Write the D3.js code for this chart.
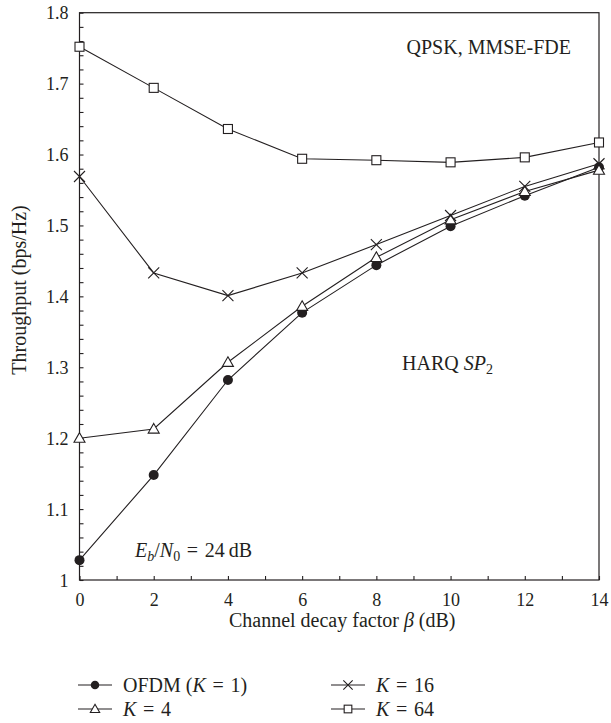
<!DOCTYPE html>
<html>
<head>
<meta charset="utf-8">
<script src="https://cdn.jsdelivr.net/npm/d3@7"></script>
<style>
  html, body { margin: 0; padding: 0; background: #fff; }
  svg text { font-family: "Liberation Serif", "DejaVu Serif", serif; fill: #231f20; }
</style>
</head>
<body>
<svg id="chart" width="611" height="723"></svg>
<script>
const beta = [0, 2, 4, 6, 8, 10, 12, 14];
const ofdm = [1.028, 1.148, 1.282, 1.377, 1.444, 1.499, 1.542, 1.582];
const k4   = [1.200, 1.213, 1.307, 1.386, 1.455, 1.508, 1.548, 1.578];
const k16  = [1.569, 1.433, 1.401, 1.433, 1.473, 1.514, 1.555, 1.587];
const k64  = [1.752, 1.694, 1.636, 1.594, 1.592, 1.589, 1.596, 1.617];
const xTicks = [0, 2, 4, 6, 8, 10, 12, 14];
const yTicks = [1, 1.1, 1.2, 1.3, 1.4, 1.5, 1.6, 1.7, 1.8];
const yTickLabels = ["1", "1.1", "1.2", "1.3", "1.4", "1.5", "1.6", "1.7", "1.8"];

const series = [
  { name: "OFDM", values: ofdm, marker: "circle" },
  { name: "K4", values: k4, marker: "triangle" },
  { name: "K16", values: k16, marker: "cross" },
  { name: "K64", values: k64, marker: "square" }
];

const svg = d3.select("#chart");
const L = 79.5, R = 599, T = 12.7, B = 580;
const x = d3.scaleLinear().domain([0, 14]).range([L, R]);
const y = d3.scaleLinear().domain([1, 1.8]).range([B, T]);
const ink = "#231f20";
const FS = 20, TFS = 18;
const EQ = "\u2004=\u2004";

// frame
svg.append("rect").attr("x", L).attr("y", T).attr("width", R - L).attr("height", B - T)
  .attr("fill", "none").attr("stroke", ink).attr("stroke-width", 1.2);

// x axis
const xAxis = d3.axisBottom(x).tickValues(d3.range(0, 15, 1)).tickSize(-4)
  .tickFormat(d => xTicks.includes(d) ? d : "");
const gx = svg.append("g").attr("transform", `translate(0,${B})`).call(xAxis);
gx.select(".domain").remove();
gx.selectAll("line").attr("stroke", ink).attr("stroke-width", 1.1);
gx.selectAll("text").attr("font-size", TFS).attr("dy", "1.0em").attr("y", 8);

// y axis
const yAxis = d3.axisLeft(y).tickValues(d3.range(0, 41).map(i => 1 + i * 0.02)).tickSize(-4)
  .tickFormat(d => {
    const i = yTicks.findIndex(t => Math.abs(t - d) < 1e-6);
    return i >= 0 ? yTickLabels[i] : "";
  });
const gy = svg.append("g").attr("transform", `translate(${L},0)`).call(yAxis);
gy.select(".domain").remove();
gy.selectAll("line").attr("stroke", ink).attr("stroke-width", 1.1);
gy.selectAll("text").attr("font-size", TFS).attr("x", -11).attr("dy", "0.34em");

// axis titles
const xt = svg.append("text").attr("x", (L + R) / 2 + 3).attr("y", 627).attr("text-anchor", "middle")
  .attr("font-size", FS);
xt.append("tspan").text("Channel decay factor ");
xt.append("tspan").attr("font-style", "italic").text("β");
xt.append("tspan").text(" (dB)");

svg.append("text").attr("transform", `translate(26,290) rotate(-90)`)
  .attr("text-anchor", "middle").attr("font-size", FS).text("Throughput (bps/Hz)");

// marker drawing
function drawMarker(g, type, cx, cy, k = 1) {
  if (type === "circle") {
    g.append("circle").attr("cx", cx).attr("cy", cy).attr("r", 5 * k).attr("fill", ink);
  } else if (type === "square") {
    const h = 4.5 * k;
    g.append("rect").attr("x", cx - h).attr("y", cy - h).attr("width", 2 * h).attr("height", 2 * h)
      .attr("fill", "#fff").attr("stroke", ink).attr("stroke-width", 1.1);
  } else if (type === "triangle") {
    const s = 5.5 * k;
    g.append("path").attr("d", `M${cx},${cy - s} L${cx + s},${cy + s * 0.75} L${cx - s},${cy + s * 0.75} Z`)
      .attr("fill", "#fff").attr("stroke", ink).attr("stroke-width", 1.1);
  } else if (type === "cross") {
    const s = 5.5 * k;
    g.append("path").attr("d", `M${cx - s},${cy - s} L${cx + s},${cy + s} M${cx - s},${cy + s} L${cx + s},${cy - s}`)
      .attr("fill", "none").attr("stroke", ink).attr("stroke-width", 1.1);
  }
}

const line = d3.line().x((d, i) => x(beta[i])).y(d => y(d));
series.forEach(s => {
  const g = svg.append("g");
  g.append("path").attr("d", line(s.values)).attr("fill", "none").attr("stroke", ink).attr("stroke-width", 1.1);
  s.values.forEach((v, i) => drawMarker(g, s.marker, x(beta[i]), y(v)));
});

// annotations
svg.append("text").attr("x", 571).attr("y", 54).attr("text-anchor", "end").attr("font-size", FS)
  .text("QPSK, MMSE-FDE");

const harq = svg.append("text").attr("x", 402).attr("y", 370).attr("font-size", FS);
harq.append("tspan").text("HARQ ");
harq.append("tspan").attr("font-style", "italic").text("SP");
harq.append("tspan").attr("font-size", 14).attr("dy", 4).text("2");

const eb = svg.append("text").attr("x", 135).attr("y", 557).attr("font-size", FS);
eb.append("tspan").attr("font-style", "italic").text("E");
eb.append("tspan").attr("font-style", "italic").attr("font-size", 14).attr("dy", 4).text("b");
eb.append("tspan").attr("dy", -4).text("/");
eb.append("tspan").attr("font-style", "italic").text("N");
eb.append("tspan").attr("font-size", 14).attr("dy", 4).text("0");
eb.append("tspan").attr("dy", -4).text(EQ + "24\u2009dB");

// legend
const legendItems = [
  { marker: "circle", col: 0, row: 0, parts: [["OFDM (", false], ["K", true], [EQ + "1)", false]] },
  { marker: "triangle", col: 0, row: 1, parts: [["K", true], [EQ + "4", false]] },
  { marker: "cross", col: 1, row: 0, parts: [["K", true], [EQ + "16", false]] },
  { marker: "square", col: 1, row: 1, parts: [["K", true], [EQ + "64", false]] }
];
const colX = [78, 331], rowY = [685, 709];
legendItems.forEach(it => {
  const x0 = colX[it.col], yy = rowY[it.row];
  const g = svg.append("g");
  g.append("line").attr("x1", x0).attr("x2", x0 + 34).attr("y1", yy).attr("y2", yy)
    .attr("stroke", ink).attr("stroke-width", 1.1);
  drawMarker(g, it.marker, x0 + 17, yy, 0.85);
  const t = g.append("text").attr("x", x0 + 45).attr("y", yy + 7).attr("font-size", FS);
  it.parts.forEach(p => t.append("tspan").attr("font-style", p[1] ? "italic" : null).text(p[0]));
});
</script>
</body>
</html>
